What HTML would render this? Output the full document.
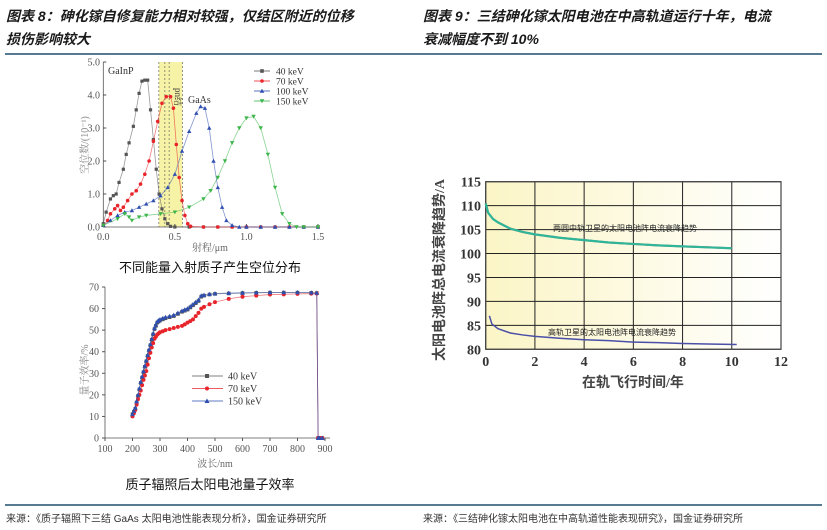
<!DOCTYPE html>
<html><head><meta charset="utf-8"><style>
body{margin:0;background:#fff;width:827px;height:530px;overflow:hidden;font-family:"Liberation Serif","Noto Serif CJK SC",serif}
svg{position:absolute;left:0;top:0}
</style></head><body>
<svg id="s" width="827" height="530">
<g font-family="'Liberation Sans','Noto Sans CJK SC',sans-serif" font-weight="bold" font-style="italic" font-size="14" fill="#1a1a1a">
<text x="6" y="21">图表 8：砷化镓自修复能力相对较强，仅结区附近的位移</text>
<text x="6" y="44">损伤影响较大</text>
<text x="423" y="21">图表 9：三结砷化镓太阳电池在中高轨道运行十年，电流</text>
<text x="423" y="44">衰减幅度不到 10%</text>
</g>
<line x1="5" y1="54" x2="822" y2="54" stroke="#1f4e6e" stroke-width="1.5"/>
<line x1="5" y1="505" x2="822" y2="505" stroke="#1f4e6e" stroke-width="1.5"/>
<g font-family="'Liberation Sans','Noto Sans CJK SC',sans-serif" font-size="10" fill="#333">
<text x="6" y="522">来源：《质子辐照下三结 GaAs 太阳电池性能表现分析》，国金证券研究所</text>
<text x="423" y="522">来源：《三结砷化镓太阳电池在中高轨道性能表现研究》，国金证券研究所</text>
</g>
<g id="c1"></g>
<g id="c2"></g>
<g id="c3"></g>
<text x="210" y="272" text-anchor="middle" font-family="'Liberation Sans','Noto Sans CJK SC',sans-serif" font-size="13" fill="#111">不同能量入射质子产生空位分布</text>
<text x="210" y="489" text-anchor="middle" font-family="'Liberation Sans','Noto Sans CJK SC',sans-serif" font-size="13" fill="#111">质子辐照后太阳电池量子效率</text>
</svg>
<script>
// ---- chart 1 data
const v40x=[0,0.02,0.05,0.07,0.09,0.11,0.14,0.16,0.18,0.21,0.23,0.25,0.27,0.29,0.31,0.33,0.35,0.37,0.39,0.41,0.43,0.45,0.47,0.5,0.6,0.7,0.8,0.9,1.0,1.1,1.2,1.3,1.4,1.5];
const v40y=[0.1,0.45,0.85,0.95,1.0,1.35,1.75,2.2,2.55,3.05,3.55,4.05,4.42,4.45,4.45,3.55,2.65,1.75,1.0,0.55,0.25,0.1,0.02,0,0,0,0,0,0,0,0,0,0,0];
const v70x=[0,0.03,0.05,0.08,0.1,0.12,0.14,0.17,0.2,0.23,0.26,0.29,0.32,0.35,0.38,0.41,0.44,0.47,0.49,0.51,0.53,0.55,0.57,0.59,0.61,0.7,0.8,0.9,1.0,1.1,1.2,1.3,1.4,1.5];
const v70y=[0.05,0.2,0.4,0.55,0.65,0.5,0.6,0.8,1.0,1.1,1.3,1.6,2.0,2.6,3.2,3.75,3.95,3.95,3.6,2.5,1.5,0.8,0.35,0.1,0.02,0,0,0,0,0,0,0,0,0];
const v100x=[0,0.05,0.1,0.15,0.2,0.25,0.3,0.35,0.4,0.45,0.5,0.55,0.6,0.65,0.68,0.71,0.74,0.77,0.8,0.83,0.86,0.9,0.95,1.0,1.1,1.2,1.3,1.4,1.5];
const v100y=[0.05,0.2,0.35,0.45,0.5,0.6,0.7,0.8,0.95,1.2,1.6,2.3,2.9,3.45,3.65,3.6,3.0,2.0,1.2,0.6,0.2,0.05,0,0,0,0,0,0,0];
const v150x=[0,0.1,0.15,0.18,0.2,0.25,0.3,0.4,0.5,0.6,0.7,0.75,0.8,0.85,0.9,0.95,1.0,1.05,1.1,1.15,1.2,1.25,1.3,1.35,1.4,1.5];
const v150y=[0.05,0.25,0.4,0.3,0.2,0.3,0.35,0.4,0.45,0.6,0.85,1.1,1.5,2.0,2.55,3.0,3.3,3.35,3.0,2.2,1.2,0.4,0.1,0,0,0];
const c1xTicks=[0,0.5,1.0,1.5];
const c1yTicks=[0,1,2,3,4,5];
// ---- chart 2 data
const qeX=[200,205,210,215,220,225,230,235,240,245,250,255,260,265,270,275,280,285,290,295,300,310,320,335,350,365,380,390,400,410,420,430,440,450,460,480,500,550,600,650,700,750,800,850,870,875,880,890];
const qe40=[11,12.2,13.5,16.5,19.5,22.5,25.5,28,30.5,33,35.5,38,40.5,43,45.5,48,50.5,52,53.5,54,54.5,55,55.5,56,56.5,57.5,58.5,59,59.5,60.5,61.5,62.5,63.5,65.5,66,66.5,66.8,67,67.2,67.3,67.4,67.4,67.4,67.3,67.2,0,0,0];
const qe70=[10,11.5,13,15.5,18,20,22,24.5,27,29,31,34,37,39.5,42,44,46,47,48,48.5,49,49.5,50,50.5,51,51.5,52,52.7,53.5,54.2,55,56.5,58,60,60.8,62,63,64.5,65.5,66,66.5,66.6,66.8,66.9,67,0,0,0];
const qe150=[11,12.5,14,17,20,23,26,28.5,31,33.5,36,38.5,41,43.5,46,48.5,51,52.5,54,54.5,55,55.5,56,56.5,57,58,59,59.5,60,61,62,63,64,66,66.3,66.7,67,67.2,67.3,67.4,67.5,67.5,67.5,67.4,67.3,0,0,0];
const c2xTicks=[100,200,300,400,500,600,700,800,900];
const c2yTicks=[0,10,20,30,40,50,60,70];
// ---- chart 3 data
const midX=[0,0.1,0.3,0.5,1,1.5,2,3,4,5,6,7,8,9,10];
const midY=[110.5,108.5,107.2,106.5,105.2,104.5,104,103.3,102.8,102.3,102,101.7,101.5,101.3,101.1];
const highX=[0.15,0.25,0.5,1,1.5,2,3,4,5,6,7,8,9,10.2];
const highY=[87,85.3,84.3,83.4,83,82.7,82.3,82,81.8,81.5,81.4,81.2,81.1,81];
const c3xTicks=[0,2,4,6,8,10,12];
const c3yTicks=[80,85,90,95,100,105,110,115];

const NS="http://www.w3.org/2000/svg";
function mk(p,t,a){const e=document.createElementNS(NS,t);for(const k in a)e.setAttribute(k,a[k]);p.appendChild(e);return e;}
function marker(g,shape,x,y,c,r){
 if(shape==='sq')return mk(g,'rect',{x:x-r,y:y-r,width:2*r,height:2*r,fill:c});
 if(shape==='ci')return mk(g,'circle',{cx:x,cy:y,r:r,fill:c});
 if(shape==='tu')return mk(g,'polygon',{points:`${x},${y-r-0.5} ${x-r-0.5},${y+r} ${x+r+0.5},${y+r}`,fill:c});
 return mk(g,'polygon',{points:`${x},${y+r+0.5} ${x-r-0.5},${y-r} ${x+r+0.5},${y-r}`,fill:c});
}
function series(g,xs,ys,X,Y,c,shape,r,name){
 const sg=mk(g,'g',{});
 
 
 mk(sg,'polyline',{points:xs.map((v,i)=>X(v)+','+Y(ys[i])).join(' '),fill:'none',stroke:c,'stroke-width':0.8,opacity:0.6});
 xs.forEach((v,i)=>{const m=marker(sg,shape,X(v),Y(ys[i]),c,r);
  
  });
}
// chart 1
(function(){
 const g=document.getElementById('c1');
 const X=v=>103.3+v/1.5*(318-103.3), Y=v=>227-v/5*(227-62);
 mk(g,'rect',{x:X(0.388),y:62,width:X(0.553)-X(0.388),height:165,fill:'#f6f3a6'});
 [0.388,0.43,0.46,0.553].forEach(v=>mk(g,'line',{x1:X(v),x2:X(v),y1:62,y2:227,stroke:'#666','stroke-dasharray':'2,2','stroke-width':0.7}));
 mk(g,'path',{d:`M103.3,62 V227 H318`,fill:'none',stroke:'#555','stroke-width':0.8});
 c1xTicks.forEach(t=>{mk(g,'line',{x1:X(t),x2:X(t),y1:227,y2:224,stroke:'#555'});const e=mk(g,'text',{x:X(t),y:240,'text-anchor':'middle','font-size':10,fill:'#555'});e.textContent=t.toFixed(1);});
 c1yTicks.forEach(t=>{mk(g,'line',{x1:103.3,x2:106.3,y1:Y(t),y2:Y(t),stroke:'#555'});const e=mk(g,'text',{x:100,y:Y(t)+3.5,'text-anchor':'end','font-size':10,fill:'#555'});e.textContent=t.toFixed(1);});
 series(g,v40x,v40y,X,Y,'#555','sq',1.6,'series-40kev');
 series(g,v70x,v70y,X,Y,'#e8242b','ci',1.8,'series-70kev');
 series(g,v100x,v100y,X,Y,'#2e4fb0','tu',1.7,'series-100kev');
 series(g,v150x,v150y,X,Y,'#3cb54a','td',1.7,'series-150kev');
 let t=mk(g,'text',{x:108,y:74,'font-size':10,fill:'#333'});t.textContent='GaInP';
 t=mk(g,'text',{x:188,y:103,'font-size':10,fill:'#333'});t.textContent='GaAs';
 t=mk(g,'text',{x:0,y:0,'font-size':9,fill:'#333',transform:`translate(${X(0.5)},${88}) rotate(90)`});t.textContent='pn结';
 t=mk(g,'text',{x:210,y:251,'text-anchor':'middle','font-size':10,fill:'#666'});t.textContent='射程/μm';
 t=mk(g,'text',{x:0,y:0,'text-anchor':'middle','font-size':10,fill:'#888',transform:'translate(88,145) rotate(-90)'});t.textContent='空位数/(10⁻¹)';
 const L=[['40 keV','#555','sq'],['70 keV','#e8242b','ci'],['100 keV','#2e4fb0','tu'],['150 keV','#3cb54a','td']];
 L.forEach((l,i)=>{const y=71+i*10;const lg=mk(g,'g',{});
  
  
  mk(lg,'line',{x1:254,x2:270,y1:y,y2:y,stroke:l[1],'stroke-width':0.8});marker(lg,l[2],262,y,l[1],1.8);
  const e=mk(lg,'text',{x:276,y:y+3.5,'font-size':9.5,fill:'#333'});e.textContent=l[0];});
})();
// chart 2
(function(){
 const g=document.getElementById('c2');
 const X=v=>105+(v-100)/800*220, Y=v=>438-v/70*151;
 mk(g,'path',{d:`M105,287 V438 H330`,fill:'none',stroke:'#555','stroke-width':0.8});
 c2xTicks.forEach(t=>{mk(g,'line',{x1:X(t),x2:X(t),y1:438,y2:441,stroke:'#555'});const e=mk(g,'text',{x:X(t),y:452,'text-anchor':'middle','font-size':10,fill:'#555'});e.textContent=t;});
 c2yTicks.forEach(t=>{mk(g,'line',{x1:102,x2:105,y1:Y(t),y2:Y(t),stroke:'#555'});const e=mk(g,'text',{x:99,y:Y(t)+3.5,'text-anchor':'end','font-size':10,fill:'#555'});e.textContent=t;});
 series(g,qeX,qe40,X,Y,'#555','sq',1.8,'series-40kev');
 series(g,qeX,qe70,X,Y,'#e8242b','ci',2,'series-70kev');
 series(g,qeX,qe150,X,Y,'#2e4fb0','tu',1.9,'series-150kev');
 let t=mk(g,'text',{x:215,y:467,'text-anchor':'middle','font-size':10,fill:'#666'});t.textContent='波长/nm';
 t=mk(g,'text',{x:0,y:0,'text-anchor':'middle','font-size':10,fill:'#888',transform:'translate(88,370) rotate(-90)'});t.textContent='量子效率/%';
 const L=[['40 keV','#555','sq'],['70 keV','#e8242b','ci'],['150 keV','#2e4fb0','tu']];
 L.forEach((l,i)=>{const y=376+i*12.5;const lg=mk(g,'g',{});
  
  
  mk(lg,'line',{x1:192,x2:223,y1:y,y2:y,stroke:l[1],'stroke-width':0.8});marker(lg,l[2],207,y,l[1],2);
  const e=mk(lg,'text',{x:228,y:y+3.5,'font-size':10,fill:'#333'});e.textContent=l[0];});
})();
// chart 3
(function(){
 const g=document.getElementById('c3');
 const x0=485.7,x1=781,y0=349.3,y1=181.7;
 const X=v=>x0+v/12*(x1-x0), Y=v=>y0-(v-80)/35*(y0-y1);
 const d=mk(g,'defs',{});const lgd=mk(d,'linearGradient',{id:'bg',x1:0,x2:1,y1:0,y2:0});
 mk(lgd,'stop',{offset:0,'stop-color':'#fbf5c6'});mk(lgd,'stop',{offset:1,'stop-color':'#ffffff'});
 mk(g,'rect',{x:x0,y:y1,width:x1-x0,height:y0-y1,fill:'url(#bg)'});
 c3xTicks.forEach(t=>{mk(g,'line',{x1:X(t),x2:X(t),y1:y1,y2:y0,stroke:'#222','stroke-width':1});const e=mk(g,'text',{x:X(t),y:366,'text-anchor':'middle','font-size':14,'font-weight':'bold',fill:'#333'});e.textContent=t;});
 c3yTicks.forEach(t=>{mk(g,'line',{x1:x0,x2:x1,y1:Y(t),y2:Y(t),stroke:'#222','stroke-width':1});const e=mk(g,'text',{x:481,y:Y(t)+5,'text-anchor':'end','font-size':14,'font-weight':'bold',fill:'#333'});e.textContent=t;});
 mk(g,'rect',{x:x0,y:y1,width:x1-x0,height:y0-y1,fill:'none',stroke:'#444','stroke-width':1.2});
 const pl=(xs,ys,c,w,n)=>{const p=mk(g,'polyline',{points:xs.map((v,i)=>X(v)+','+Y(ys[i])).join(' '),fill:'none',stroke:c,'stroke-width':w});
  
  };
 pl(midX,midY,'#d9552a',2,'mid-orbit-line-red');
 pl(midX,midY,'#2fb59a',2.2,'mid-orbit-line');
 pl(highX,highY,'#4a4fa8',1.5,'high-orbit-line');
 let t=mk(g,'text',{x:553,y:231,'font-size':8,fill:'#222','font-family':"'Liberation Sans','Noto Sans CJK SC',sans-serif"});t.textContent='两圆中轨卫星的太阳电池阵电流衰降趋势';
 t=mk(g,'text',{x:548,y:335,'font-size':8,fill:'#222','font-family':"'Liberation Sans','Noto Sans CJK SC',sans-serif"});t.textContent='高轨卫星的太阳电池阵电流衰降趋势';
 t=mk(g,'text',{x:633,y:387,'text-anchor':'middle','font-size':14,'font-weight':'bold',fill:'#444','font-family':"'Liberation Serif','Noto Sans CJK SC',serif"});t.textContent='在轨飞行时间/年';
 t=mk(g,'text',{x:0,y:0,'text-anchor':'middle','font-size':14,'font-weight':'bold',fill:'#444',transform:'translate(444,270) rotate(-90)','font-family':"'Liberation Serif','Noto Sans CJK SC',serif"});t.textContent='太阳电池阵总电流衰降趋势/A';
})();
</script>
</body></html>
